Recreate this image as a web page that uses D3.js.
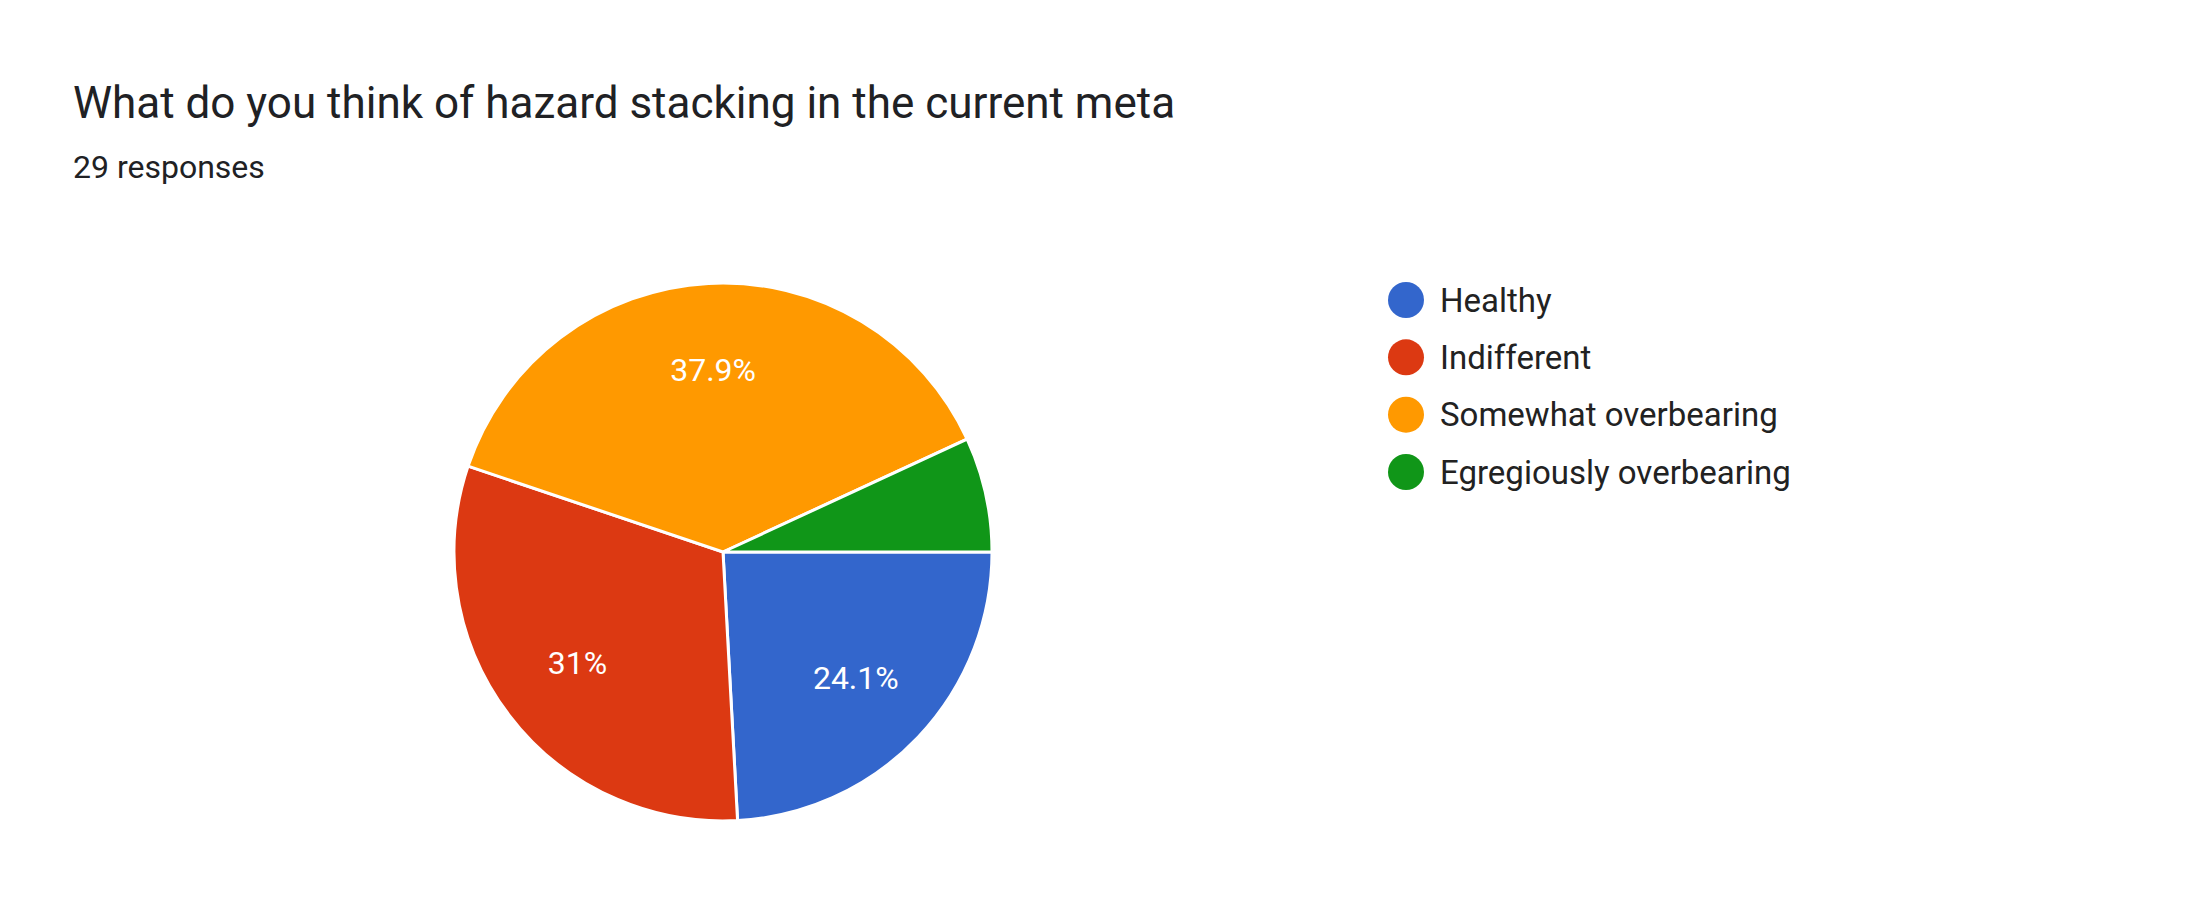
<!DOCTYPE html>
<html>
<head>
<meta charset="utf-8">
<script src="https://cdn.jsdelivr.net/npm/d3@7"></script>
<style>
  body { margin: 0; background: #fff; }
  svg { display: block; font-family: Roboto, Arial, sans-serif; }
</style>
</head>
<body>
<svg id="chart"></svg>
<script>
let categories = ["Healthy", "Indifferent", "Somewhat overbearing", "Egregiously overbearing"]
let counts = [7, 9, 11, 2]
let colors = ["#3366cc", "#dc3912", "#ff9900", "#109618"]
let chartTitle = "What do you think of hazard stacking in the current meta"
let chartSubtitle = "29 responses"

let width = 2196, height = 924
let svg = d3.select("#chart").attr("width", width).attr("height", height)

svg.append("text")
    .attr("x", 73).attr("y", 118)
    .attr("font-size", "44px").attr("fill", "#202124")
    .text(chartTitle)

svg.append("text")
    .attr("x", 73).attr("y", 178)
    .attr("font-size", "32px").attr("fill", "#202124")
    .text(chartSubtitle)

let cx = 723, cy = 552, radius = 269
let total = d3.sum(counts)
let pie = d3.pie().sort(null)
    .startAngle(Math.PI / 2).endAngle(Math.PI / 2 + 2 * Math.PI)
let arc = d3.arc().innerRadius(0).outerRadius(radius)
let labelArc = d3.arc().innerRadius(radius * 0.68).outerRadius(radius * 0.68)

let g = svg.append("g").attr("transform", `translate(${cx},${cy})`)
let slices = pie(counts)

g.selectAll("path").data(slices).enter().append("path")
    .attr("d", arc)
    .attr("fill", (d, i) => colors[i])
    .attr("stroke", "#fff").attr("stroke-width", 3)

g.selectAll("text").data(slices.filter(d => d.data / total > 0.1)).enter().append("text")
    .attr("transform", d => `translate(${labelArc.centroid(d)})`)
    .attr("text-anchor", "middle").attr("dy", "0.35em")
    .attr("font-size", "32px").attr("fill", "#fff")
    .text(d => {
        let p = Math.round(d.data / total * 1000) / 10
        return p + "%"
    })

let legend = svg.append("g")
let ly = d3.scalePoint().domain(categories).range([300, 472])
legend.selectAll("circle").data(categories).enter().append("circle")
    .attr("cx", 1406).attr("cy", d => ly(d)).attr("r", 18)
    .attr("fill", (d, i) => colors[i])
legend.selectAll("text").data(categories).enter().append("text")
    .attr("x", 1440).attr("y", d => ly(d)).attr("dy", "0.35em")
    .attr("font-size", "33px").attr("fill", "#222")
    .text(d => d)
</script>
</body>
</html>
